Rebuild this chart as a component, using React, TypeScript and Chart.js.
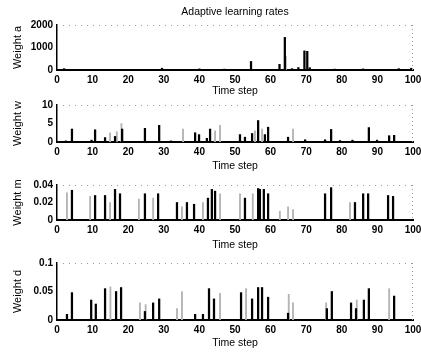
import React, { useEffect, useRef } from 'react';
import { Chart, registerables } from 'chart.js';

Chart.register(...registerables);
Chart.defaults.color = '#000';
Chart.defaults.font.family = '"Liberation Sans", Arial, sans-serif';

const figureTitle = 'Adaptive learning rates';
const xAxisLabel = 'Time step';
const timeTicks = [0, 10, 20, 30, 40, 50, 60, 70, 80, 90, 100];

// Weight a
const aSteps = [2, 9, 17, 22, 29.5, 40, 47, 54.5, 62.5, 64, 66, 67.8, 69.5, 70.3, 71, 78, 86, 96, 99.5];
const aValues = [60, 30, 30, 30, 80, 50, 40, 380, 250, 1450, 60, 110, 850, 830, 100, 40, 50, 60, 80];
const aFaintSteps = [64.3];
const aFaintValues = [600];
const aTicks = [0, 1000, 2000];

// Weight w
const wSteps = [2.5, 4.2, 9.7, 10.7, 13.5, 16.3, 18.3, 24.7, 28.7, 32, 38.8, 39.9, 42.1, 43, 51.4, 52.8, 54.8, 56.5, 58.4, 59.3, 64.9, 69.7, 75.3, 77, 79.5, 83, 87.6, 89.9, 93.3, 94.7];
const wValues = [0.3, 3.5, 0.5, 3.3, 1.2, 1.5, 3.5, 3.7, 4.5, 0.3, 2.5, 2, 1, 3.5, 2, 1.3, 2.3, 5.8, 2, 4, 1.3, 0.6, 0.6, 3.4, 0.4, 0.5, 3.9, 0.5, 1.7, 1.8];
const wFaintSteps = [14.9, 16.8, 18.1, 35.4, 44.4, 45.8, 55.6, 57.6, 66.3];
const wFaintValues = [2.5, 2.8, 5, 3.5, 3, 4.5, 3, 3.5, 3.5];
const wTicks = [0, 5, 10];

// Weight m
const mSteps = [4.2, 10.7, 13.5, 16.3, 17.7, 24.7, 28.4, 33.7, 36.5, 38.5, 42.4, 43.5, 44.4, 52.8, 56.5, 57, 58.1, 59.3, 75.3, 77, 83.7, 86, 87.4, 93, 94.4];
const mValues = [0.034, 0.028, 0.028, 0.035, 0.03, 0.03, 0.03, 0.02, 0.02, 0.018, 0.025, 0.035, 0.033, 0.025, 0.036, 0.035, 0.035, 0.03, 0.03, 0.037, 0.02, 0.03, 0.03, 0.028, 0.027];
const mFaintSteps = [2.8, 9.3, 14.9, 23, 27, 35.1, 41, 45.8, 51.4, 55, 62.6, 64.9, 66.3, 82.3];
const mFaintValues = [0.031, 0.027, 0.02, 0.024, 0.025, 0.015, 0.02, 0.03, 0.03, 0.03, 0.01, 0.015, 0.012, 0.02];
const mTicks = [0, 0.02, 0.04];

// Weight d
const dSteps = [2.8, 4.2, 9.6, 10.9, 13.5, 16.6, 18, 24.7, 27, 28.7, 38.8, 41, 42.7, 44.1, 51.7, 54.8, 56.5, 57.6, 59.3, 64.9, 75.8, 77.2, 82.6, 84, 86.2, 87.6, 94.7];
const dValues = [0.01, 0.048, 0.035, 0.028, 0.055, 0.05, 0.057, 0.015, 0.03, 0.037, 0.01, 0.01, 0.055, 0.037, 0.048, 0.037, 0.057, 0.057, 0.04, 0.012, 0.02, 0.05, 0.03, 0.02, 0.035, 0.055, 0.042];
const dFaintSteps = [15, 23.3, 24.9, 33.7, 35.1, 45.8, 53.1, 65.1, 66.3, 75.6, 84.2, 93.3];
const dFaintValues = [0.058, 0.03, 0.027, 0.02, 0.05, 0.047, 0.055, 0.045, 0.03, 0.03, 0.035, 0.055];
const dTicks = [0, 0.05, 0.1];

type Panel = {
  label: string;
  steps: number[];
  values: number[];
  faintSteps: number[];
  faintValues: number[];
  ticks: number[];
  title?: string;
  canvasTop: number;
  plotTop: number;
  axisY: number;
  timeY: number;
};

const panels: Panel[] = [
  { label: 'Weight a', steps: aSteps, values: aValues, faintSteps: aFaintSteps, faintValues: aFaintValues, ticks: aTicks, title: figureTitle, canvasTop: 0, plotTop: 25, axisY: 70, timeY: 91 },
  { label: 'Weight w', steps: wSteps, values: wValues, faintSteps: wFaintSteps, faintValues: wFaintValues, ticks: wTicks, canvasTop: 95, plotTop: 105, axisY: 142, timeY: 166 },
  { label: 'Weight m', steps: mSteps, values: mValues, faintSteps: mFaintSteps, faintValues: mFaintValues, ticks: mTicks, canvasTop: 175, plotTop: 185, axisY: 220, timeY: 245 },
  { label: 'Weight d', steps: dSteps, values: dValues, faintSteps: dFaintSteps, faintValues: dFaintValues, ticks: dTicks, canvasTop: 253, plotTop: 263, axisY: 320, timeY: 343 },
];

const CANVAS_W = 440;
const PLOT_LEFT = 57;
const PLOT_RIGHT = 413;
const TITLE_SIZE = 10.5;
const TITLE_LH = TITLE_SIZE * 1.2;

// faint dotted top and right box edges, as in the scanned MATLAB figure
const boxEdges = {
  id: 'boxEdges',
  afterDraw(chart: any) {
    const { ctx, chartArea } = chart;
    ctx.save();
    ctx.strokeStyle = '#9a9a9a';
    ctx.lineWidth = 1;
    ctx.setLineDash([1, 5]);
    ctx.beginPath();
    ctx.moveTo(chartArea.left, chartArea.top + 0.5);
    ctx.lineTo(chartArea.right, chartArea.top + 0.5);
    ctx.stroke();
    ctx.setLineDash([1, 3]);
    ctx.beginPath();
    ctx.moveTo(chartArea.right - 0.5, chartArea.top);
    ctx.lineTo(chartArea.right - 0.5, chartArea.bottom);
    ctx.stroke();
    ctx.restore();
  },
};

function SubPlot({ p }: { p: Panel }) {
  const ref = useRef<HTMLCanvasElement | null>(null);
  const height = p.timeY + 7 - p.canvasTop;
  useEffect(() => {
    if (!ref.current) return;
    const titleCenter = 12;
    const chart = new Chart(ref.current, {
      type: 'bar',
      data: {
        datasets: [
          {
            data: p.steps.map((s, i) => ({ x: s, y: p.values[i] })),
            backgroundColor: '#000',
            borderWidth: 0,
            barThickness: 1.6,
            grouped: false,
          } as any,
          {
            data: p.faintSteps.map((s, i) => ({ x: s, y: p.faintValues[i] })),
            backgroundColor: '#b4b4b4',
            borderWidth: 0,
            barThickness: 1.2,
            grouped: false,
          } as any,
        ],
      },
      plugins: [boxEdges],
      options: {
        animation: false,
        responsive: false,
        maintainAspectRatio: false,
        events: [],
        layout: {
          padding: {
            left: 0,
            right: CANVAS_W - PLOT_RIGHT,
            top: p.title ? 0 : p.plotTop - p.canvasTop,
            bottom: 0,
          },
        },
        plugins: {
          legend: { display: false },
          tooltip: { enabled: false },
          title: p.title
            ? {
                display: true,
                text: p.title,
                fullSize: false,
                color: '#000',
                font: { size: TITLE_SIZE, weight: 'normal' },
                padding: { top: titleCenter - TITLE_LH / 2, bottom: p.plotTop - (titleCenter + TITLE_LH / 2) },
              }
            : { display: false },
        },
        scales: {
          x: {
            type: 'linear',
            position: 'bottom',
            min: 0,
            max: 100,
            offset: false,
            grid: { display: false, drawTicks: false, tickLength: 0 },
            border: { display: true, color: '#000', width: 2 },
            afterBuildTicks: (s: any) => {
              s.ticks = timeTicks.map((v) => ({ value: v }));
            },
            ticks: {
              padding: 4,
              maxRotation: 0,
              autoSkip: false,
              color: '#000',
              font: { size: 10, weight: 'bold' },
              callback: (v: any) => String(v),
            },
            title: {
              display: true,
              text: xAxisLabel,
              color: '#000',
              font: { size: TITLE_SIZE, weight: 'normal' },
              padding: { top: 0, bottom: 7 - TITLE_LH / 2 },
            },
            afterFit: (s: any) => {
              s.height = p.timeY + 7 - p.axisY;
            },
          } as any,
          y: {
            type: 'linear',
            position: 'left',
            min: p.ticks[0],
            max: p.ticks[p.ticks.length - 1],
            grid: { display: false, drawTicks: false, tickLength: 0 },
            border: { display: true, color: '#000', width: 1.5 },
            afterBuildTicks: (s: any) => {
              s.ticks = p.ticks.map((v) => ({ value: v }));
            },
            ticks: {
              padding: 4,
              autoSkip: false,
              color: '#000',
              font: { size: 10, weight: 'bold' },
              callback: (v: any) => String(v),
            },
            title: {
              display: true,
              text: p.label,
              color: '#000',
              font: { size: 11, weight: 'normal' },
              padding: { top: 18 - 6.6, bottom: 0 },
            },
            afterFit: (s: any) => {
              s.width = PLOT_LEFT;
            },
          } as any,
        },
      },
    });
    return () => chart.destroy();
  }, [p]);
  return (
    <canvas
      ref={ref}
      width={CANVAS_W}
      height={height}
      style={{ position: 'absolute', left: 0, top: p.canvasTop, width: CANVAS_W, height }}
    />
  );
}

export default function App() {
  return (
    <div
      style={{
        position: 'absolute',
        left: 0,
        top: 0,
        width: 421,
        height: 352,
        overflow: 'hidden',
        background: '#fff',
      }}
    >
      {panels.map((p) => (
        <SubPlot key={p.label} p={p} />
      ))}
    </div>
  );
}
